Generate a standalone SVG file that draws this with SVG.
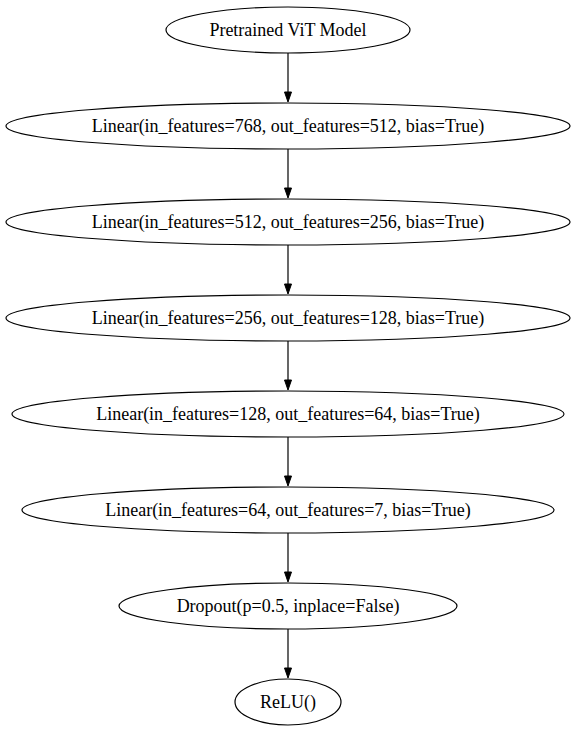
<svg xmlns="http://www.w3.org/2000/svg" width="575" height="731" viewBox="0 0 575 731">
<style>
.n ellipse{fill:none;stroke:#000;stroke-width:1.2}
.n text{font-family:"Liberation Serif","Times New Roman",serif;font-size:18px;text-anchor:middle;fill:#000}
.e line{stroke:#000;stroke-width:1.2}
.e polygon{fill:#000;stroke:#000;stroke-width:1}
</style>
<rect width="575" height="731" fill="#fff"/>
<g id="n1" class="n"><ellipse cx="288" cy="30" rx="122" ry="23"/><text x="288" y="36">Pretrained ViT Model</text></g>
<g id="n2" class="n"><ellipse cx="288" cy="126" rx="282" ry="23"/><text x="288" y="132">Linear(in_features=768, out_features=512, bias=True)</text></g>
<g id="n3" class="n"><ellipse cx="288" cy="222" rx="282" ry="23"/><text x="288" y="228">Linear(in_features=512, out_features=256, bias=True)</text></g>
<g id="n4" class="n"><ellipse cx="288" cy="318" rx="282" ry="23"/><text x="288" y="324">Linear(in_features=256, out_features=128, bias=True)</text></g>
<g id="n5" class="n"><ellipse cx="288" cy="414" rx="276" ry="23"/><text x="288" y="420">Linear(in_features=128, out_features=64, bias=True)</text></g>
<g id="n6" class="n"><ellipse cx="288" cy="510" rx="266" ry="23"/><text x="288" y="516">Linear(in_features=64, out_features=7, bias=True)</text></g>
<g id="n7" class="n"><ellipse cx="288" cy="606" rx="169" ry="23"/><text x="288" y="612">Dropout(p=0.5, inplace=False)</text></g>
<g id="n8" class="n"><ellipse cx="288" cy="702" rx="53" ry="23"/><text x="288" y="708">ReLU()</text></g>
<g id="connectors" class="e">
<line x1="288" y1="53" x2="288" y2="92"/><polygon points="284.5,92 291.5,92 288,102"/>
<line x1="288" y1="149" x2="288" y2="188"/><polygon points="284.5,188 291.5,188 288,198"/>
<line x1="288" y1="245" x2="288" y2="284"/><polygon points="284.5,284 291.5,284 288,294"/>
<line x1="288" y1="341" x2="288" y2="380"/><polygon points="284.5,380 291.5,380 288,390"/>
<line x1="288" y1="437" x2="288" y2="476"/><polygon points="284.5,476 291.5,476 288,486"/>
<line x1="288" y1="533" x2="288" y2="572"/><polygon points="284.5,572 291.5,572 288,582"/>
<line x1="288" y1="629" x2="288" y2="668"/><polygon points="284.5,668 291.5,668 288,678"/>
</g>
</svg>
